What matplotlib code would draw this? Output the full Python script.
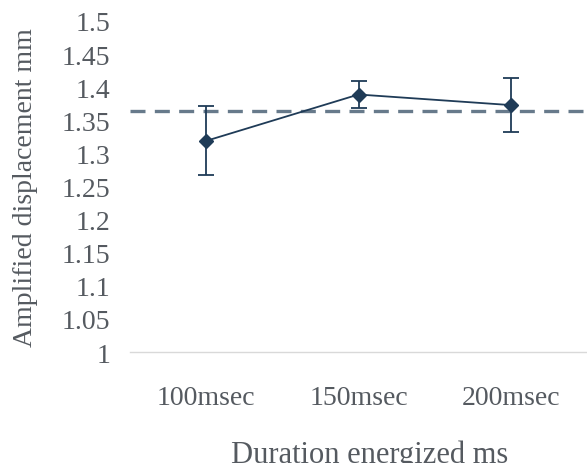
import numpy as np
import matplotlib
matplotlib.use("Agg")
from matplotlib import pyplot as plt

# data
durations = ["100msec", "150msec", "200msec"]
displacement = [1.319, 1.389, 1.373]
errors = [0.052, 0.021, 0.041]
mean_level = 1.364
y_ticks = [1, 1.05, 1.1, 1.15, 1.2, 1.25, 1.3, 1.35, 1.4, 1.45, 1.5]

plt.rcParams['font.family'] = ['Liberation Serif', 'DejaVu Serif']

fig = plt.figure(figsize=(5.87, 4.64), dpi=100)
ax = fig.add_axes([0.2215, 0.239, 0.7785, 0.7136])

x = np.arange(len(durations))
ax.axhline(mean_level, color="#677a8b", linestyle=(0, (4.5, 2.8)), linewidth=2.4, zorder=1)
ax.errorbar(x, displacement, yerr=errors, color="#1f3b57", linewidth=1.3,
            marker="D", markersize=7, capsize=6, capthick=1.3, elinewidth=1.3, zorder=3)

ax.set_xlim(-0.5, 2.5)
ax.set_ylim(1, 1.5)
ax.set_xticks(x)
ax.set_xticklabels(durations)
ax.set_yticks(y_ticks)
ax.set_yticklabels([f"{t:g}" for t in y_ticks])
ax.tick_params(length=0, labelsize=20, colors="#555a60", pad=14)
ax.tick_params(axis="x", pad=24)

for side in ["top", "right", "left"]:
    ax.spines[side].set_visible(False)
ax.spines["bottom"].set_color("#d9d9d9")
ax.spines["bottom"].set_linewidth(1)

ax.set_ylabel("Amplified displacement mm", fontsize=20, color="#555a60", labelpad=17)
ax.set_xlabel("Duration energized ms", fontsize=22, color="#555a60", labelpad=21)
# titel osi lekko w prawo, jak w oryginale
ax.xaxis.label.set_x(0.525)

plt.savefig("out.png", dpi=100)
plt.close()
